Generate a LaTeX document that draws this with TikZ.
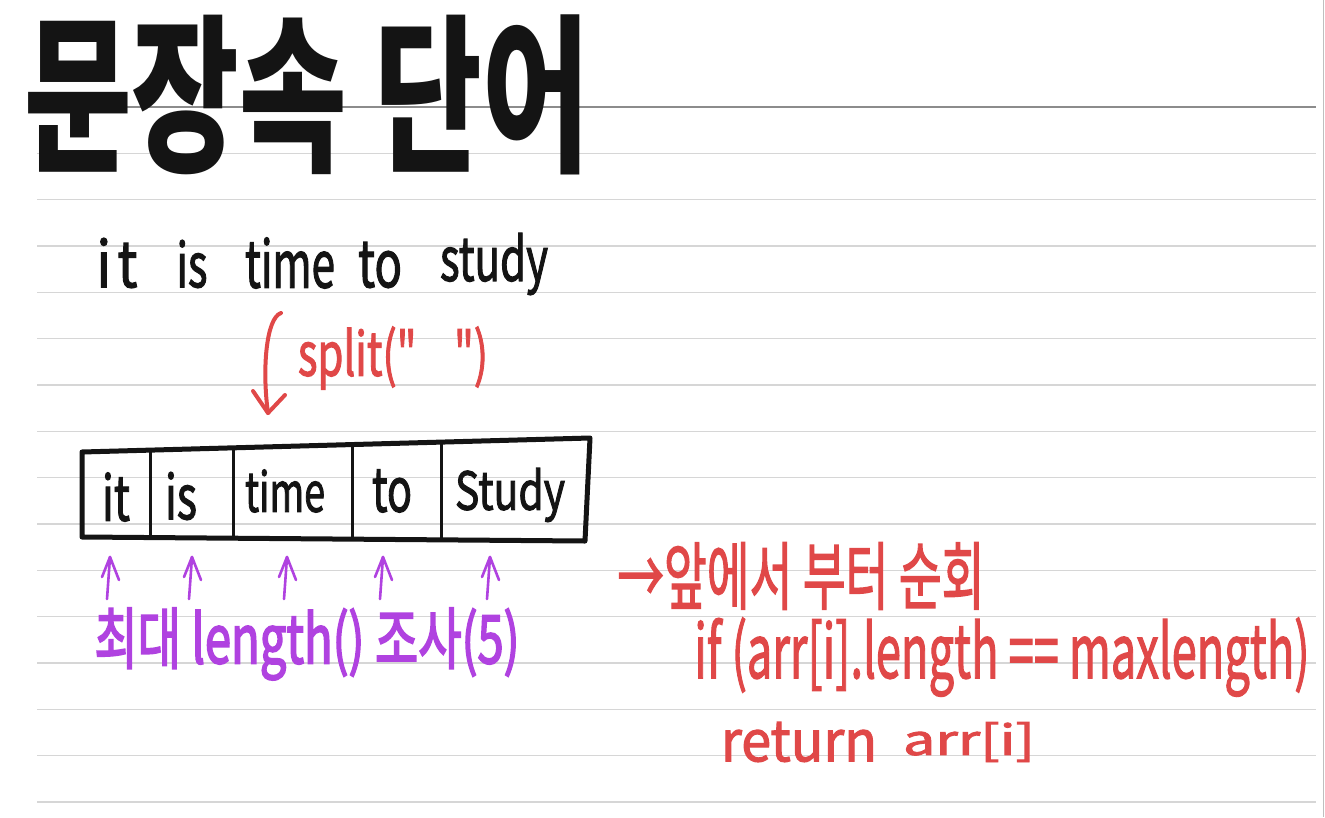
\documentclass[tikz,border=0pt]{standalone}
\usepackage{fontspec}
\setmainfont{Noto Sans CJK KR}
\newfontfamily\penfont{Noto Sans CJK KR}[FakeBold=2]
\newfontfamily\heavypen{Noto Sans CJK KR}[FakeBold=3]
\usepackage{graphicx}
\newcommand\fitline[3]{\resizebox*{#1pt}{#2pt}{#3}}
\definecolor{penred}{HTML}{E04848}
\definecolor{penpurple}{HTML}{B042E0}
\definecolor{inkblack}{HTML}{141414}
\begin{document}
\begin{tikzpicture}[x=1pt,y=-1pt,
  rule/.style={draw=black!16,line width=1.2pt},
  darkrule/.style={draw=black!45,line width=2pt},
  txt/.style={inner sep=0pt,outer sep=0pt},
  blacktxt/.style={txt,text=inkblack,font=\penfont},
  redtxt/.style={txt,text=penred,font=\penfont},
  purptxt/.style={txt,text=penpurple,font=\heavypen},
  boxline/.style={draw=inkblack,line width=5pt,line join=round},
  divline/.style={draw=inkblack,line width=3pt,line cap=round},
  redpen/.style={draw=penred,line width=4pt,line cap=round,line join=round},
  purppen/.style={draw=penpurple,line width=2.6pt,line cap=round,line join=round}]
\useasboundingbox (0,0) rectangle (1325,817);
\fill[white] (0,0) rectangle (1325,817);
% ruled paper
\foreach \k in {1,...,15} \draw[rule] (37,{107+46.33*\k}) -- (1316,{107+46.33*\k});
\draw[darkrule] (37,107) -- (1316,107);
\draw[black!25,line width=1pt] (1323,0) -- (1323,817);
% title
\node[txt,text=inkblack] (title) at (307,95) {\fitline{565}{160}{\bfseries 문장속 단어}};
% sentence
\node[blacktxt] (w1) at (117,263) {\fitline{41}{50}{i\hspace{0.12em}t}};
\node[blacktxt] (w2) at (192,264) {\fitline{31}{48}{is}};
\node[blacktxt] (w3) at (290,263) {\fitline{90}{51}{time}};
\node[blacktxt] (w4) at (380,265) {\fitline{44}{46}{to}};
\node[blacktxt] (w5) at (494,264) {\fitline{108}{62}{study}};
% split arrow
\coordinate (sTop) at (281,313);
\coordinate (sTip) at (268,413);
\draw[redpen] (sTop) .. controls (266,318) and (262,370) .. (sTip);
\draw[redpen] (253,391) -- (sTip) -- (285,395);
\node[redtxt] (split) at (393,358) {\fitline{190}{63}{split("\hspace{0.9em}")}};
% array box
\coordinate (bTL) at (82,452);
\coordinate (bTR) at (590,438);
\coordinate (bBR) at (585,541);
\coordinate (bBL) at (82,537);
\draw[boxline] (bTL) -- (bTR) -- (bBR) -- (bBL) -- cycle;
\foreach \xx/\ya/\yb in {150/450/537, 233/448/537, 352/445/538, 441/443/539}
  \draw[divline] (\xx,\ya) -- (\xx,\yb);
\node[blacktxt] (c1) at (116,497) {\fitline{28}{49}{it}};
\node[blacktxt] (c2) at (181,496) {\fitline{32}{48}{is}};
\node[blacktxt] (c3) at (285,491) {\fitline{80}{43}{time}};
\node[blacktxt] (c4) at (392,491) {\fitline{40}{43}{to}};
\node[blacktxt] (c5) at (510,495) {\fitline{110}{54}{Study}};
% purple pointers
\foreach \xx [count=\i] in {110,192,287,383,490} {
  \coordinate (p\i) at (\xx,557);
  \draw[purppen] (\xx-3,599) -- (p\i);
  \draw[purppen] (\xx-8,577) -- (p\i) -- (\xx+9,580);
}
\node[purptxt] (note) at (307,644) {\fitline{425}{72}{최대 length() 조사(5)}};
% red notes
\node[redtxt] (r1) at (801,576) {\fitline{367}{67}{→앞에서 부터 순회}};
\node[redtxt] (r2) at (1002,657) {\fitline{615}{79}{if (arr[i].length == maxlength)}};
\node[redtxt] (r3a) at (799,742) {\fitline{156}{40}{return}};
\node[redtxt] (r3b) at (969,742) {\fitline{132}{40}{arr[i]}};
\end{tikzpicture}
\end{document}
